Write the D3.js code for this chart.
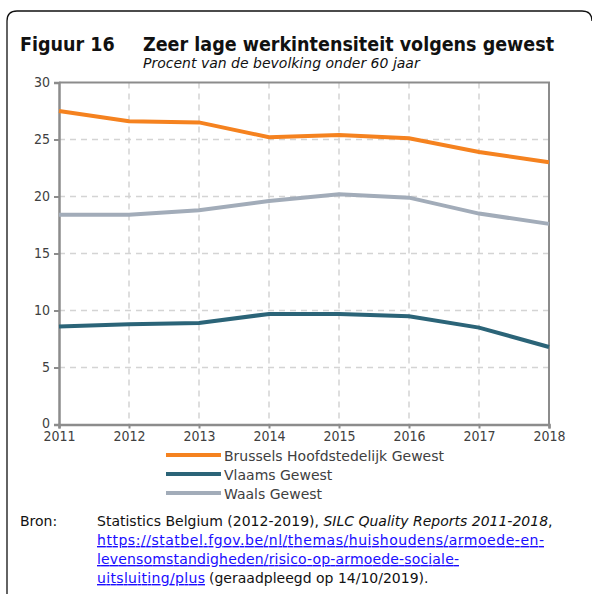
<!DOCTYPE html>
<html>
<head>
<meta charset="utf-8">
<script src="https://cdn.jsdelivr.net/npm/d3@7"></script>
<style>
  body { margin: 0; background: #fff; }
</style>
</head>
<body>
<svg id="chart" width="592" height="594" font-family="DejaVu Sans, sans-serif"></svg>
<script>
    const years = [2011, 2012, 2013, 2014, 2015, 2016, 2017, 2018];
    const brussels = [27.5, 26.6, 26.5, 25.2, 25.4, 25.1, 23.9, 23.0];
    const vlaams = [8.6, 8.8, 8.9, 9.7, 9.7, 9.5, 8.5, 6.8];
    const waals = [18.4, 18.4, 18.8, 19.6, 20.2, 19.9, 18.5, 17.6];
    const yTicks = [0, 5, 10, 15, 20, 25, 30];
    const seriesNames = ["Brussels Hoofdstedelijk Gewest", "Vlaams Gewest", "Waals Gewest"];
    const seriesColors = ["#f5821f", "#2b6478", "#a2acb9"];

    const svg = d3.select("#chart");
    const margin = { top: 82.5, right: 43, bottom: 169.5, left: 59 };
    const width = 592 - margin.left - margin.right;
    const height = 594 - margin.top - margin.bottom;
    const condensed = "'DejaVu Sans Condensed', sans-serif";
    const regular = "'DejaVu Sans', sans-serif";

    // frame with rounded corner, clipped by the page edges
    svg.append("path")
        .attr("d", "M7,620 L7,21 Q7,11 17,11 L582,11 Q592,11 592,21")
        .attr("fill", "none")
        .attr("stroke", "#111")
        .attr("stroke-width", 1.3);

    // titles
    svg.append("text").attr("x", 20).attr("y", 51)
        .style("font-family", condensed)
        .attr("font-size", 19.5).attr("font-weight", "bold").attr("fill", "#111")
        .text("Figuur 16");
    svg.append("text").attr("x", 143).attr("y", 51)
        .style("font-family", condensed)
        .attr("font-size", 19.5).attr("font-weight", "bold").attr("fill", "#111")
        .text("Zeer lage werkintensiteit volgens gewest");
    svg.append("text").attr("x", 143).attr("y", 68)
        .style("font-family", regular)
        .attr("font-size", 14).attr("font-style", "italic").attr("fill", "#111")
        .text("Procent van de bevolking onder 60 jaar");

    const g = svg.append("g")
        .attr("transform", "translate(" + margin.left + "," + margin.top + ")");

    const x = d3.scaleLinear().domain([2011, 2018]).range([0, width]);
    const y = d3.scaleLinear().domain([0, 30]).range([height, 0]);

    // dashed grid
    g.append("g").selectAll("line").data(yTicks.slice(1, -1)).join("line")
        .attr("x1", 0).attr("x2", width)
        .attr("y1", d => y(d)).attr("y2", d => y(d))
        .attr("stroke", "#d4d4d4").attr("stroke-width", 1.5).attr("stroke-dasharray", "6,5");
    g.append("g").selectAll("line").data(years.slice(1, -1)).join("line")
        .attr("y1", 0).attr("y2", height)
        .attr("x1", d => x(d)).attr("x2", d => x(d))
        .attr("stroke", "#d4d4d4").attr("stroke-width", 1.5).attr("stroke-dasharray", "6,5");

    // plot border (top + right)
    g.append("path")
        .attr("d", "M0,0 H" + width + " V" + height)
        .attr("fill", "none").attr("stroke", "#8c8c8c").attr("stroke-width", 2);

    // axes
    const yAxis = g.append("g")
        .call(d3.axisLeft(y).tickValues(yTicks).tickSize(5).tickPadding(4));
    const xAxis = g.append("g").attr("transform", "translate(0," + height + ")")
        .call(d3.axisBottom(x).tickValues(years).tickFormat(d3.format("d")).tickSize(4).tickPadding(3));
    [yAxis, xAxis].forEach(a => {
        a.select(".domain").attr("stroke", "#8c8c8c").attr("stroke-width", 2.5);
        a.selectAll(".tick line").attr("stroke", "#8c8c8c").attr("stroke-width", 2);
        a.selectAll("text").style("font-family", condensed)
            .attr("font-size", 14).attr("fill", "#404040");
    });
    yAxis.selectAll(".tick").filter(d => d === 0).select("text").attr("dy", "0.2em");

    // lines
    const line = d3.line().x((d, i) => x(years[i])).y(d => y(d));
    [brussels, vlaams, waals].forEach((s, i) => {
        g.append("path").datum(s)
            .attr("d", line)
            .attr("fill", "none")
            .attr("stroke", seriesColors[i])
            .attr("stroke-width", 4);
    });

    // legend
    const legend = svg.append("g").attr("transform", "translate(166,455)");
    seriesNames.forEach((name, i) => {
        const row = legend.append("g").attr("transform", "translate(0," + (i * 19) + ")");
        row.append("line").attr("x1", 0).attr("x2", 55)
            .attr("stroke", seriesColors[i]).attr("stroke-width", 4);
        row.append("text").attr("x", 58).attr("y", 5.5)
            .style("font-family", regular)
            .attr("font-size", 14).attr("fill", "#404040").text(name);
    });

    // source
    svg.append("text").attr("x", 20).attr("y", 526)
        .style("font-family", regular)
        .attr("font-size", 14).attr("fill", "#111").text("Bron:");
    const t1 = svg.append("text").attr("x", 97).attr("y", 526)
        .style("font-family", regular)
        .attr("font-size", 14).attr("fill", "#111");
    t1.append("tspan").text("Statistics Belgium (2012-2019), ");
    t1.append("tspan").attr("font-style", "italic").text("SILC Quality Reports 2011-2018");
    t1.append("tspan").text(",");
    const links = ["https://statbel.fgov.be/nl/themas/huishoudens/armoede-en-",
                   "levensomstandigheden/risico-op-armoede-sociale-",
                   "uitsluiting/plus"];
    const linkWidths = [447, 362, 108];
    links.forEach((l, i) => {
        const yy = 545 + i * 19;
        svg.append("text").attr("x", 97).attr("y", yy)
            .style("font-family", regular)
            .attr("font-size", 14).attr("fill", "#1a0dff")
            .attr("text-decoration", "underline")
            .attr("textLength", linkWidths[i]).attr("lengthAdjust", "spacing")
            .text(l);
        if (i === 2) {
            svg.append("text").attr("x", 97 + linkWidths[i] + 4).attr("y", yy)
                .style("font-family", regular)
                .attr("font-size", 14).attr("fill", "#111")
                .text("(geraadpleegd op 14/10/2019).");
        }
    });
</script>
</body>
</html>
